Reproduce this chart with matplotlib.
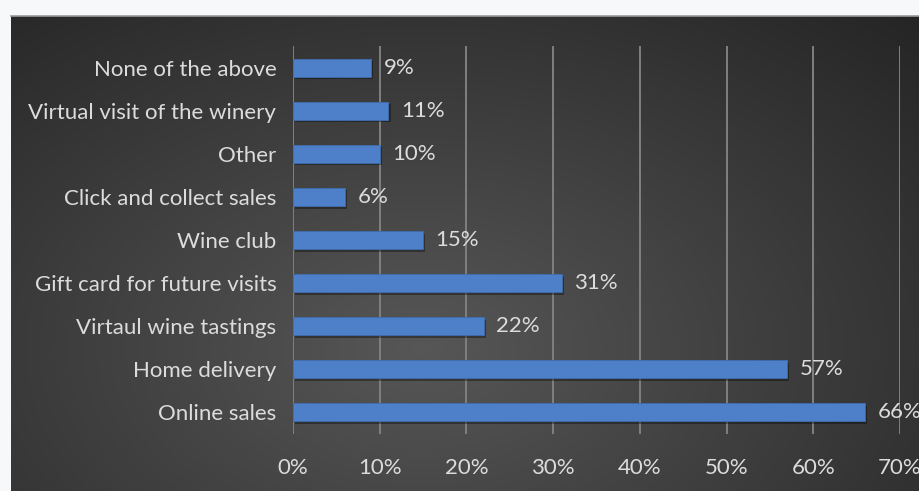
import matplotlib.pyplot as plt
import numpy as np
from matplotlib.ticker import FuncFormatter

categorias = ['None of the above', 'Virtual visit of the winery', 'Other',
              'Click and collect sales', 'Wine club', 'Gift card for future visits',
              'Virtaul wine tastings', 'Home delivery', 'Online sales']
valores = [9, 11, 10, 6, 15, 31, 22, 57, 66]
ticks_x = [0, 10, 20, 30, 40, 50, 60, 70]

plt.rcParams['font.family'] = ['Lato', 'DejaVu Sans']

fig = plt.figure(figsize=(9.2, 4.91), dpi=100)
fig.patch.set_facecolor('#f7f8fa')

# fondo oscuro con degradado radial
bg = fig.add_axes([11 / 920, 0, 1 - 11 / 920, (491 - 16) / 491])
h, w = 300, 600
yy, xx = np.mgrid[0:h, 0:w]
d = np.sqrt(((xx - w * 0.45) / (w * 0.8)) ** 2 + ((yy - h * 0.7) / (h * 1.0)) ** 2)
shade = np.clip(0.34 - 0.2 * d, 0.14, 0.34)
img = np.dstack([shade, shade, shade])
bg.imshow(img, aspect='auto', extent=[0, 1, 0, 1], origin='upper', interpolation='bilinear')
bg.set_xlim(0, 1)
bg.set_ylim(0, 1)
bg.axis('off')
bg.plot([0, 1], [1, 1], color='#9a9a9a', lw=1.2, transform=bg.transAxes, clip_on=False)

ax = fig.add_axes([293 / 920, 1 - 434 / 491, 607 / 920, 388 / 491])
ax.patch.set_alpha(0)

y = np.arange(len(categorias))
# sombra
ax.barh(y + 0.06, valores, height=0.42, left=0.25, color='black', alpha=0.35, zorder=2)
ax.barh(y, valores, height=0.42, color='#4d80c9', edgecolor='#3f6db0', lw=0.6, zorder=3)

for yi, v in zip(y, valores):
    ax.annotate(f'{v}%', (v, yi), xytext=(9, 0), textcoords='offset points',
                va='center', ha='left', color='#dcdcdc', fontsize=16, zorder=4)

ax.set_xlim(0, 70)
ax.set_ylim(len(categorias) - 0.5, -0.5)
ax.set_xticks(ticks_x)
ax.xaxis.set_major_formatter(FuncFormatter(lambda v, p: f'{int(v)}%'))
ax.set_yticks(y)
ax.set_yticklabels(categorias)
ax.tick_params(axis='both', length=0, colors='#dcdcdc', labelsize=16)
ax.tick_params(axis='x', pad=17)
ax.tick_params(axis='y', pad=12)
ax.grid(axis='x', color='#808080', lw=1.4, zorder=1)
for s in ax.spines.values():
    s.set_visible(False)

fig.savefig('out.png', dpi=100, facecolor=fig.get_facecolor())
